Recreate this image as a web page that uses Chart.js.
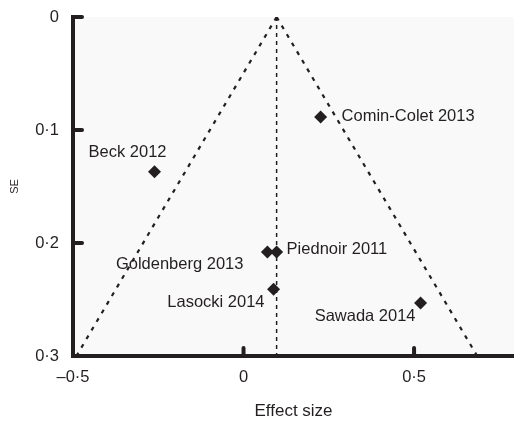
<!DOCTYPE html>
<html>
<head>
<meta charset="utf-8">
<script src="https://cdn.jsdelivr.net/npm/chart.js@4.4.1/dist/chart.umd.min.js"></script>
<style>
  html, body { margin: 0; padding: 0; background: #ffffff; overflow: hidden; }
  #wrap { width: 514px; height: 421px; position: relative; }
</style>
</head>
<body>
<div id="wrap"><canvas id="c"></canvas></div>
<script>
// ---- Data ----
const studies = ['Beck 2012', 'Comin-Colet 2013', 'Goldenberg 2013', 'Piednoir 2011', 'Lasocki 2014', 'Sawada 2014'];
const effectSize = [-0.261, 0.226, 0.070, 0.097, 0.088, 0.519];
const standardError = [0.137, 0.0885, 0.208, 0.208, 0.241, 0.253];
const pooledEffect = 0.097;
const funnelSE = [0, 0.3];
const funnelLeftX = [0.097, -0.49];
const funnelRightX = [0.097, 0.685];
const xTicks = [-0.5, 0, 0.5];
const yTicks = [0, 0.1, 0.2, 0.3];
const xTitle = 'Effect size';
const yTitle = 'SE';

// ---- Styles ----
const INK = '#231f20';
const FONT = '"Liberation Sans", Arial, Helvetica, sans-serif';
const labelPlacement = [
  { dx: -27, dy: -19, align: 'center' },
  { dx: 21, dy: -1, align: 'left' },
  { dx: -24, dy: 12, align: 'right' },
  { dx: 10, dy: -3, align: 'left' },
  { dx: -9, dy: 13, align: 'right' },
  { dx: -5, dy: 14, align: 'right' }
];

const fmt = v => {
  if (Math.abs(v) < 1e-9) return '0';
  return v.toFixed(1).replace('.', '\u00B7').replace('-', '\u2013');
};

const zeroPad = s => { s.paddingTop = 0; s.paddingBottom = 0; s.paddingLeft = 0; s.paddingRight = 0; };

const pts = effectSize.map((x, i) => ({ x: x, y: standardError[i] }));
const leftLine = funnelSE.map((y, i) => ({ x: funnelLeftX[i], y: y }));
const rightLine = funnelSE.map((y, i) => ({ x: funnelRightX[i], y: y }));
const midLine = funnelSE.map(y => ({ x: pooledEffect, y: y }));

const framePlugin = {
  id: 'frame',
  beforeDraw(chart) {
    const { ctx, chartArea: a } = chart;
    ctx.save();
    ctx.fillStyle = '#f9f9f9';
    ctx.fillRect(a.left, a.top, chart.width - a.left, a.bottom - a.top);
    ctx.restore();
  },
  afterDatasetsDraw(chart) {
    const { ctx, chartArea: a, scales } = chart;
    const xs = scales.x, ys = scales.y;
    ctx.save();
    // axes
    ctx.strokeStyle = INK;
    ctx.lineWidth = 4;
    ctx.lineCap = 'square';
    ctx.beginPath();
    ctx.moveTo(a.left, a.top);
    ctx.lineTo(a.left, a.bottom);
    ctx.lineTo(chart.width + 2, a.bottom);
    ctx.stroke();
    // inward ticks
    ctx.lineCap = 'round';
    yTicks.forEach(v => {
      const py = ys.getPixelForValue(v);
      if (Math.abs(py - a.bottom) < 2) return;
      ctx.beginPath();
      ctx.moveTo(a.left, py);
      ctx.lineTo(a.left + 9, py);
      ctx.stroke();
    });
    xTicks.forEach(v => {
      const px = xs.getPixelForValue(v);
      if (Math.abs(px - a.left) < 2) return;
      ctx.beginPath();
      ctx.moveTo(px, a.bottom);
      ctx.lineTo(px, a.bottom - 8);
      ctx.stroke();
    });
    // study labels
    const meta = chart.getDatasetMeta(3);
    ctx.fillStyle = INK;
    ctx.font = '16.5px ' + FONT;
    ctx.textBaseline = 'middle';
    meta.data.forEach((el, i) => {
      const p = labelPlacement[i];
      ctx.textAlign = p.align;
      ctx.fillText(studies[i], el.x + p.dx, el.y + p.dy);
    });
    ctx.restore();
  }
};

new Chart(document.getElementById('c'), {
  type: 'scatter',
  data: {
    datasets: [
      { type: 'line', data: leftLine, borderColor: INK, borderWidth: 2.2, borderDash: [4, 6], pointRadius: 0, fill: false },
      { type: 'line', data: rightLine, borderColor: INK, borderWidth: 2.2, borderDash: [4, 6], pointRadius: 0, fill: false },
      { type: 'line', data: midLine, borderColor: INK, borderWidth: 1.5, borderDash: [4, 4], pointRadius: 0, fill: false },
      { data: pts, pointStyle: 'rectRot', pointRadius: 6.5, backgroundColor: INK, borderColor: INK, borderWidth: 0 }
    ]
  },
  options: {
    responsive: true,
    maintainAspectRatio: false,
    animation: false,
    layout: { autoPadding: false, padding: { top: 17, right: 0, left: 0, bottom: 0 } },
    plugins: { legend: { display: false }, tooltip: { enabled: false } },
    scales: {
      x: {
        type: 'linear',
        min: -0.5,
        max: 0.793,
        afterBuildTicks: s => { s.ticks = xTicks.map(v => ({ value: v })); },
        afterFit: s => { s.height = 65; zeroPad(s); },
        grid: { display: false, drawTicks: false },
        border: { display: false },
        ticks: { padding: 12, color: INK, font: { family: FONT, size: 16.5 }, callback: v => fmt(v), maxRotation: 0, autoSkip: false },
        title: { display: true, text: xTitle, color: INK, font: { family: FONT, size: 17 }, padding: { top: 0, bottom: -1 } }
      },
      y: {
        type: 'linear',
        reverse: true,
        min: 0,
        max: 0.3,
        afterBuildTicks: s => { s.ticks = yTicks.map(v => ({ value: v })); },
        afterFit: s => { s.width = 73; zeroPad(s); },
        grid: { display: false, drawTicks: false },
        border: { display: false },
        ticks: { padding: 14, color: INK, font: { family: FONT, size: 16.5 }, callback: v => fmt(v), autoSkip: false },
        title: { display: true, text: yTitle, color: INK, font: { family: FONT, size: 11 }, padding: { top: 8.4, bottom: 0 } }
      }
    }
  },
  plugins: [framePlugin]
});
</script>
</body>
</html>
